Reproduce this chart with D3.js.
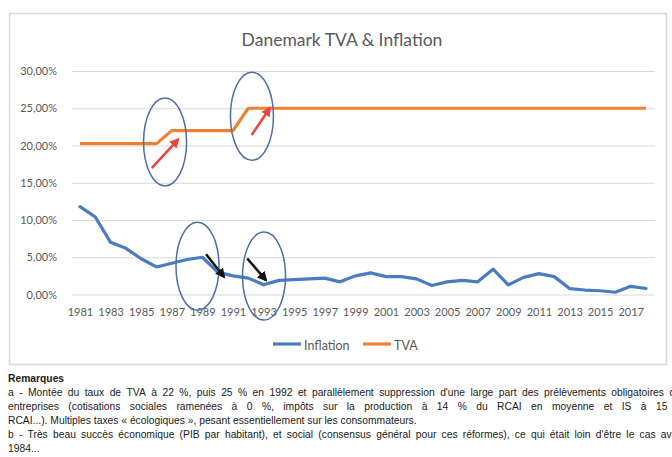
<!DOCTYPE html>
<html><head><meta charset="utf-8">
<script src="https://cdn.jsdelivr.net/npm/d3@7"></script>
<style>body{margin:0;background:#fff;} svg{display:block;}</style>
</head><body><svg id="c" width="672" height="457"></svg>
<script>
const years = [1981,1982,1983,1984,1985,1986,1987,1988,1989,1990,1991,1992,1993,1994,1995,1996,1997,1998,1999,2000,2001,2002,2003,2004,2005,2006,2007,2008,2009,2010,2011,2012,2013,2014,2015,2016,2017,2018];
const inflation = [11.8,10.4,7.0,6.2,4.8,3.7,4.2,4.7,5.0,3.0,2.5,2.2,1.3,1.9,2.0,2.1,2.2,1.7,2.5,2.9,2.4,2.4,2.1,1.2,1.7,1.9,1.7,3.4,1.3,2.3,2.8,2.4,0.8,0.6,0.5,0.3,1.1,0.8];
const tva = [20.25,20.25,20.25,20.25,20.25,20.25,22,22,22,22,22,25,25,25,25,25,25,25,25,25,25,25,25,25,25,25,25,25,25,25,25,25,25,25,25,25,25,25];
const xTickLabels = [1981,1983,1985,1987,1989,1991,1993,1995,1997,1999,2001,2003,2005,2007,2009,2011,2013,2015,2017];
const yTicks = [0,5,10,15,20,25,30];
const seriesNames = ["Inflation","TVA"];
const title = "Danemark TVA & Inflation";
// annotations (in data coordinates: year, value)
const ellipses = [[1986.56,20.47],[1992.24,23.93],[1988.68,3.8],[1993.03,2.47]];
const redArrows = [[[1985.69,16.96],[1987.42,20.83]],[[1992.22,21.4],[1993.42,25.04]]];
const blackArrows = [[[1989.24,5.4],[1990.41,2.37]],[[1991.93,4.83],[1993.16,1.93]]];
const remarksTitle = "Remarques";
const remarks = [
 {t:"a - Montée du taux de TVA à 22 %, puis 25 % en 1992 et parallèlement suppression d'une large part des prélèvements obligatoires des", j:true},
 {t:"entreprises (cotisations sociales ramenées à 0 %, impôts sur la production à 14 % du RCAI en moyenne et IS à 15 %", j:true},
 {t:"RCAI...). Multiples taxes « écologiques », pesant essentiellement sur les consommateurs.", j:false},
 {t:"b - Très beau succès économique (PIB par habitant), et social (consensus général pour ces réformes), ce qui était loin d'être le cas avant", j:true},
 {t:"1984...", j:false}
];

const colors = {Inflation:"#4a7cc4", TVA:"#ef8232"};
const svg = d3.select("#c");
const font = "Lato, 'Open Sans', sans-serif";

// chart frame
svg.append("rect").attr("x",9.5).attr("y",13.5).attr("width",657).attr("height",351)
  .attr("fill","#fff").attr("stroke","#d9d9d9").attr("stroke-width",1.5);

const x = d3.scalePoint().domain(years).range([80,646]);
const xl = d3.scaleLinear().domain([1981,2018]).range([80,646]);
const y = d3.scaleLinear().domain([0,30]).range([294.5,71]);

// title
svg.append("text").attr("x",342).attr("y",46).attr("text-anchor","middle")
  .attr("font-family",font).attr("font-size",17.5).attr("fill","#595959").text(title);

// y axis with gridlines
const ya = svg.append("g").attr("transform","translate(72,0)")
  .call(d3.axisLeft(y).tickValues(yTicks).tickSize(-583).tickPadding(15)
    .tickFormat(d => d3.format(".2f")(d).replace(".",",") + "%"));
ya.select(".domain").remove();
ya.selectAll(".tick line").attr("stroke","#d9d9d9").attr("stroke-width",1);
ya.selectAll("text").attr("font-family",font).attr("font-size",11).attr("fill","#595959");

// x axis
const xa = svg.append("g").attr("transform","translate(0,294.5)")
  .call(d3.axisBottom(x).tickValues(xTickLabels).tickSize(0).tickPadding(14));
xa.select(".domain").remove();
xa.selectAll("text").attr("font-family",font).attr("font-size",11).attr("fill","#595959");

// lines
const line = d3.line().x((d,i)=>x(years[i])).y(d=>y(d));
svg.append("path").datum(tva).attr("d",line).attr("fill","none")
  .attr("stroke",colors.TVA).attr("stroke-width",3.2).attr("stroke-linejoin","round");
svg.append("path").datum(inflation).attr("d",line).attr("fill","none")
  .attr("stroke",colors.Inflation).attr("stroke-width",3.2).attr("stroke-linejoin","round").attr("stroke-linecap","round");

// legend
const leg = [{n:seriesNames[0],x0:273,tx:304},{n:seriesNames[1],x0:363,tx:394}];
leg.forEach(l=>{
  svg.append("line").attr("x1",l.x0).attr("x2",l.x0+28).attr("y1",344).attr("y2",344)
    .attr("stroke",colors[l.n]).attr("stroke-width",3.2);
  svg.append("text").attr("x",l.tx).attr("y",350).attr("font-family",font).attr("font-size",12.5)
    .attr("fill","#595959").text(l.n);
});

// annotations
const defs = svg.append("defs");
[["redHead","#e8463a"],["blackHead","#111"]].forEach(([id,c])=>{
  defs.append("marker").attr("id",id).attr("viewBox","0 0 10 10").attr("refX",8).attr("refY",5)
    .attr("markerWidth",4).attr("markerHeight",4).attr("orient","auto")
    .append("path").attr("d","M0,0L10,5L0,10z").attr("fill",c);
});
ellipses.forEach(([yr,v])=>{
  svg.append("ellipse").attr("cx",xl(yr)).attr("cy",y(v)).attr("rx",21.5).attr("ry",44)
    .attr("fill","none").attr("stroke","#4f6ea8").attr("stroke-width",1.5);
});
redArrows.forEach(([a,b])=>{
  svg.append("line").attr("x1",xl(a[0])).attr("y1",y(a[1])).attr("x2",xl(b[0])).attr("y2",y(b[1]))
    .attr("stroke","#e8463a").attr("stroke-width",2.5).attr("marker-end","url(#redHead)");
});
blackArrows.forEach(([a,b])=>{
  svg.append("line").attr("x1",xl(a[0])).attr("y1",y(a[1])).attr("x2",xl(b[0])).attr("y2",y(b[1]))
    .attr("stroke","#111").attr("stroke-width",2.5).attr("marker-end","url(#blackHead)");
});

// remarks
const rfont = "'Liberation Sans', Arial, sans-serif";
const rsize = 10.3;
svg.append("text").attr("x",8).attr("y",382).attr("font-family",rfont).attr("font-size",rsize)
  .attr("font-weight","bold").attr("fill","#1a1a1a").text(remarksTitle);
const lineH = 14, W = 678;
remarks.forEach((r,i)=>{
  const yy = 395.5 + i*lineH;
  const t = svg.append("text").attr("y",yy).attr("font-family",rfont).attr("font-size",rsize).attr("fill","#1a1a1a");
  if(!r.j){ t.attr("x",8).text(r.t); return; }
  const words = r.t.split(" ");
  const widths = words.map(w=>{ const s=t.append("tspan").text(w); const wd=s.node().getComputedTextLength(); s.remove(); return wd; });
  const gap = (W - d3.sum(widths))/(words.length-1);
  let cx = 8;
  words.forEach((w,k)=>{ t.append("tspan").attr("x",cx).text(w); cx += widths[k]+gap; });
});
</script></body></html>
